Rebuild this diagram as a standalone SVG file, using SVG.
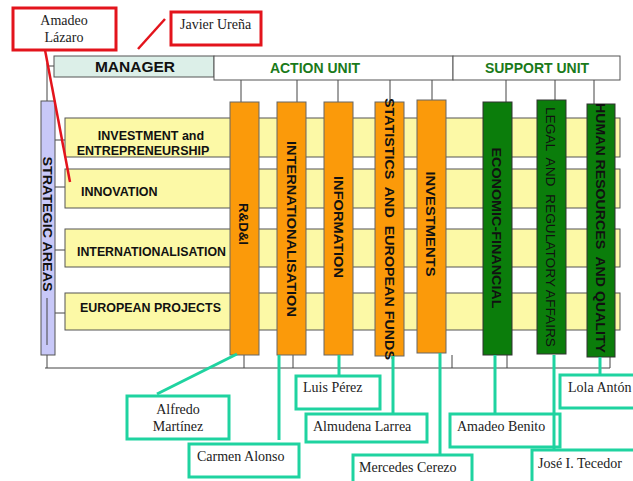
<svg xmlns="http://www.w3.org/2000/svg" width="633" height="481" viewBox="0 0 633 481">
<style>
.frame{fill:none;stroke:#555;stroke-width:1}
.row{fill:#fcf9a6;stroke:#555;stroke-width:1}
.rowt{font-family:"Liberation Sans",Arial,sans-serif;font-weight:bold;font-size:12.5px;fill:#111}
.orange{fill:#fb9a0a;stroke:#666;stroke-width:1}
.green{fill:#0b7d0b;stroke:#333;stroke-width:1}
.vt{font-family:"Liberation Sans",Arial,sans-serif;font-weight:bold;font-size:13.5px;fill:#111}
.vtr{font-family:"Liberation Sans",Arial,sans-serif;font-size:13.5px;fill:#111}
.hdr{font-family:"Liberation Sans",Arial,sans-serif;font-weight:bold;font-size:14px;fill:#1a7a1a}
.name{fill:#fff;stroke:#1fd3a0;stroke-width:3}
.redbox{fill:#fff;stroke:#e3141c;stroke-width:3}
.nt{font-family:"Liberation Serif","Times New Roman",serif;font-size:14px;fill:#222}
.tl{stroke:#1fd3a0;stroke-width:3;fill:none}
.rl{stroke:#e3141c;stroke-width:2.5;fill:none}
.ln{stroke:#444;stroke-width:1;fill:none}
</style>

<g id="frame-lines">
<line class="ln" x1="47" y1="63" x2="47" y2="368"/>
<line class="ln" x1="47" y1="66" x2="54" y2="66"/>
<line class="ln" x1="45" y1="368" x2="610" y2="368"/>
<line class="ln" x1="610" y1="332" x2="610" y2="368"/>
<line class="ln" x1="54" y1="140" x2="65" y2="140"/>
<line class="ln" x1="54" y1="187" x2="65" y2="187"/>
<line class="ln" x1="54" y1="250" x2="65" y2="250"/>
<line class="ln" x1="54" y1="313" x2="65" y2="313"/>
<line class="ln" x1="241" y1="80" x2="241" y2="102"/>
<line class="ln" x1="297" y1="80" x2="297" y2="102"/>
<line class="ln" x1="338" y1="80" x2="338" y2="102"/>
<line class="ln" x1="390" y1="80" x2="390" y2="102"/>
<line class="ln" x1="432" y1="80" x2="432" y2="100"/>
<line class="ln" x1="506" y1="80" x2="506" y2="102"/>
<line class="ln" x1="555" y1="80" x2="555" y2="100"/>
<line class="ln" x1="594" y1="73" x2="594" y2="104"/>
<line class="ln" x1="244" y1="355" x2="244" y2="368"/>
<line class="ln" x1="293" y1="355" x2="293" y2="368"/>
<line class="ln" x1="452" y1="355" x2="452" y2="368"/>
<line class="ln" x1="507" y1="355" x2="507" y2="368"/>
</g>

<g id="manager">
<rect x="54" y="56" width="160" height="21" fill="#dcefe8" stroke="#555"/>
<text x="135" y="72" text-anchor="middle" font-family="Liberation Sans, Arial, sans-serif" font-weight="bold" font-size="15.5" fill="#111">MANAGER</text>
</g>
<g id="action-unit">
<rect x="214" y="56" width="239" height="24" fill="#fff" stroke="#555"/>
<text x="315" y="73" text-anchor="middle" class="hdr">ACTION UNIT</text>
</g>
<g id="support-unit">
<rect x="453" y="56" width="167" height="24" fill="#fff" stroke="#555"/>
<text x="537" y="73" text-anchor="middle" class="hdr">SUPPORT UNIT</text>
</g>

<g id="row-investment">
<rect class="row" x="65" y="118" width="555" height="39"/>
<text class="rowt" x="151" y="140" text-anchor="middle">INVESTMENT and</text>
<text class="rowt" x="143" y="155" text-anchor="middle">ENTREPRENEURSHIP</text>
</g>
<g id="row-innovation">
<rect class="row" x="65" y="169" width="555" height="39"/>
<text class="rowt" x="81" y="196">INNOVATION</text>
</g>
<g id="row-internationalisation">
<rect class="row" x="65" y="229" width="555" height="38"/>
<text class="rowt" x="77" y="256" textLength="149" lengthAdjust="spacingAndGlyphs">INTERNATIONALISATION</text>
</g>
<g id="row-european">
<rect class="row" x="65" y="293" width="555" height="37"/>
<text class="rowt" x="80" y="312" textLength="141" lengthAdjust="spacingAndGlyphs">EUROPEAN PROJECTS</text>
</g>

<g id="strategic-areas">
<rect x="41" y="101" width="14" height="254" fill="#c8c8f8" stroke="#555"/>
<line class="ln" x1="47" y1="298" x2="47" y2="345"/>
<text class="vt" transform="translate(48,224) rotate(90)" text-anchor="middle" dy="0.36em" textLength="135" lengthAdjust="spacingAndGlyphs">STRATEGIC AREAS</text>
</g>

<g id="rdi">
<rect class="orange" x="230" y="102" width="29" height="253"/>
<text class="vt" transform="translate(244,224) rotate(90)" text-anchor="middle" dy="0.36em" textLength="42" lengthAdjust="spacingAndGlyphs">R&amp;D&amp;I</text>
</g>
<g id="internationalisation">
<rect class="orange" x="277" y="102" width="29" height="253"/>
<text class="vt" transform="translate(292,229) rotate(90)" text-anchor="middle" dy="0.36em" textLength="176" lengthAdjust="spacingAndGlyphs">INTERNATIONALISATION</text>
</g>
<g id="information">
<rect class="orange" x="324" y="102" width="29" height="253"/>
<text class="vt" transform="translate(339,227) rotate(90)" text-anchor="middle" dy="0.36em" textLength="102" lengthAdjust="spacingAndGlyphs">INFORMATION</text>
</g>
<g id="statistics">
<rect class="orange" x="375" y="102" width="29" height="254"/>
<text class="vt" transform="translate(390,229) rotate(90)" text-anchor="middle" dy="0.36em" textLength="262" lengthAdjust="spacingAndGlyphs" xml:space="preserve">STATISTICS  AND  EUROPEAN FUNDS</text>
</g>
<g id="investments">
<rect class="orange" x="417" y="100" width="29" height="253"/>
<text class="vt" transform="translate(431,224) rotate(90)" text-anchor="middle" dy="0.36em" textLength="105" lengthAdjust="spacingAndGlyphs">INVESTMENTS</text>
</g>
<g id="economic-financial">
<rect class="green" x="483" y="102" width="29" height="253"/>
<text class="vt" transform="translate(497,228) rotate(90)" text-anchor="middle" dy="0.36em" textLength="161" lengthAdjust="spacingAndGlyphs">ECONOMIC-FINANCIAL</text>
</g>
<g id="legal">
<rect class="green" x="537" y="100" width="29" height="254"/>
<text class="vtr" transform="translate(551,227) rotate(90)" text-anchor="middle" dy="0.36em" textLength="240" lengthAdjust="spacingAndGlyphs" xml:space="preserve">LEGAL  AND  REGULATORY AFFAIRS</text>
</g>
<g id="human-resources">
<rect class="green" x="587" y="104" width="28" height="253"/>
<text class="vt" transform="translate(601,228) rotate(90)" text-anchor="middle" dy="0.36em" textLength="250" lengthAdjust="spacingAndGlyphs" xml:space="preserve">HUMAN RESOURCES  AND QUALITY</text>
</g>

<g id="connectors">
<line class="rl" x1="165" y1="19" x2="138" y2="49"/>
<line class="rl" x1="45" y1="50" x2="70" y2="182"/>
<line class="tl" x1="157" y1="394" x2="237" y2="354"/>
<line class="tl" x1="279" y1="355" x2="279" y2="440"/>
<line class="tl" x1="339" y1="355" x2="339" y2="375"/>
<line class="tl" x1="393" y1="356" x2="393" y2="413"/>
<line class="tl" x1="440" y1="353" x2="440" y2="454"/>
<line class="tl" x1="495" y1="355" x2="495" y2="413"/>
<line class="tl" x1="600" y1="357" x2="600" y2="374"/>
</g>

<g id="amadeo-lazaro">
<rect class="redbox" x="13" y="8" width="103" height="42"/>
<text class="nt" x="64" y="25" text-anchor="middle">Amadeo</text>
<text class="nt" x="64" y="42" text-anchor="middle">Lázaro</text>
</g>
<g id="javier-urena">
<rect class="redbox" x="171" y="12" width="90" height="33"/>
<text class="nt" x="180" y="29">Javier Ureña</text>
</g>
<g id="alfredo-martinez">
<rect class="name" x="127" y="396" width="102" height="43"/>
<text class="nt" x="178" y="414" text-anchor="middle">Alfredo</text>
<text class="nt" x="178" y="431" text-anchor="middle">Martínez</text>
</g>
<g id="carmen-alonso">
<rect class="name" x="189" y="444" width="110" height="33"/>
<text class="nt" x="197" y="461">Carmen Alonso</text>
</g>
<g id="luis-perez">
<rect class="name" x="296" y="376" width="84" height="33"/>
<text class="nt" x="303" y="392">Luis Pérez</text>
</g>
<g id="almudena-larrea">
<rect class="name" x="306" y="414" width="121" height="28"/>
<text class="nt" x="313" y="431">Almudena Larrea</text>
</g>
<g id="mercedes-cerezo">
<rect class="name" x="353" y="455" width="119" height="30"/>
<text class="nt" x="359" y="472">Mercedes Cerezo</text>
</g>
<g id="amadeo-benito">
<rect class="name" x="450" y="414" width="110" height="33"/>
<text class="nt" x="457" y="431">Amadeo Benito</text>
</g>
<line class="tl" x1="554" y1="355" x2="554" y2="449"/>
<g id="jose-tecedor">
<rect class="name" x="532" y="450" width="105" height="35"/>
<text class="nt" x="538" y="468">José I. Tecedor</text>
</g>
<g id="lola-anton">
<rect class="name" x="560" y="375" width="77" height="33"/>
<text class="nt" x="568" y="392">Lola Antón</text>
</g>
</svg>
